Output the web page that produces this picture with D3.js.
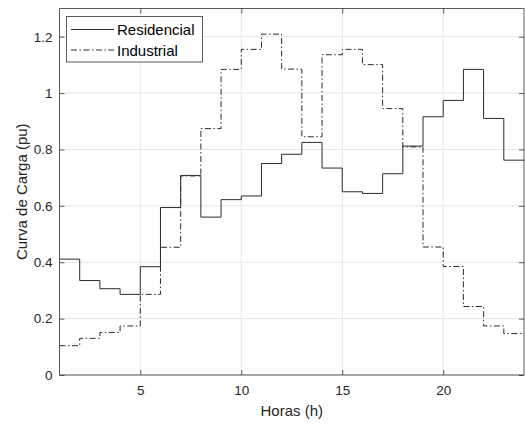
<!DOCTYPE html>
<html>
<head>
<meta charset="utf-8">
<script src="https://cdn.jsdelivr.net/npm/d3@7"></script>
<style>
  html, body { margin: 0; padding: 0; background: #fff; }
  svg { display: block; font-family: Arial, "Liberation Sans", Helvetica, sans-serif; }
</style>
</head>
<body>
<svg id="chart" width="525" height="424"></svg>
<script>
// Hourly load curves (pu), one value per hour starting at hour 1
const hours = d3.range(1, 24);
const residencial = [0.411, 0.335, 0.306, 0.286, 0.384, 0.594, 0.708, 0.560, 0.622, 0.635, 0.750, 0.783,
                     0.825, 0.734, 0.650, 0.644, 0.714, 0.812, 0.916, 0.974, 1.084, 0.910, 0.762];
const industrial = [0.104, 0.130, 0.151, 0.174, 0.286, 0.453, 0.706, 0.874, 1.084, 1.155, 1.209, 1.085,
                    0.845, 1.136, 1.155, 1.101, 0.945, 0.809, 0.454, 0.385, 0.243, 0.174, 0.147];
const seriesNames = ["Residencial", "Industrial"];
const xTicks = [5, 10, 15, 20];
const yTicks = [0, 0.2, 0.4, 0.6, 0.8, 1, 1.2];
const xDomain = [1, 24];
const yDomain = [0, 1.3];

const svg = d3.select("#chart");
const m = { left: 59.5, top: 8.5, right: 524, bottom: 375 };

const x = d3.scaleLinear().domain(xDomain).range([m.left, m.right]);
const y = d3.scaleLinear().domain(yDomain).range([m.bottom, m.top]);

const axisColor = "#262626";
const gridColor = "#e6e6e6";

// grid
const grid = svg.append("g");
grid.selectAll(".gx").data(xTicks).join("line")
  .attr("x1", d => x(d)).attr("x2", d => x(d))
  .attr("y1", m.top).attr("y2", m.bottom)
  .attr("stroke", gridColor).attr("stroke-width", 1);
grid.selectAll(".gy").data(yTicks).join("line")
  .attr("x1", m.left).attr("x2", m.right)
  .attr("y1", d => y(d)).attr("y2", d => y(d))
  .attr("stroke", gridColor).attr("stroke-width", 1);

// stair lines
const line = d3.line().x(d => x(d[0])).y(d => y(d[1])).curve(d3.curveStepAfter);
function stairs(vals) {
  const pts = vals.map((v, i) => [hours[i], v]);
  pts.push([xDomain[1], vals[vals.length - 1]]);
  return pts;
}
const plot = svg.append("g");
plot.append("path").datum(stairs(residencial)).attr("d", line)
  .attr("fill", "none").attr("stroke", "#2b2b2b").attr("stroke-width", 1);
plot.append("path").datum(stairs(industrial)).attr("d", line)
  .attr("fill", "none").attr("stroke", "#2b2b2b").attr("stroke-width", 1)
  .attr("stroke-dasharray", "6,2.5,1.5,2.5");

// axes (ticks pointing inward, MATLAB style)
const fontSize = 13.5;
const xAxis = d3.axisBottom(x).tickValues(xTicks).tickSize(-5).tickPadding(10).tickFormat(d3.format("d"));
const yAxis = d3.axisLeft(y).tickValues(yTicks).tickSize(-5).tickPadding(7).tickFormat(d => d3.format("")(+d.toFixed(1)));
const xAxisTop = d3.axisTop(x).tickValues(xTicks).tickSize(-5).tickFormat("");
const yAxisRight = d3.axisRight(y).tickValues(yTicks).tickSize(-5).tickFormat("");

function style(g) {
  g.select(".domain").attr("stroke", axisColor).attr("stroke-opacity", 0.75);
  g.selectAll(".tick line").attr("stroke", axisColor).attr("stroke-opacity", 0.75);
  g.selectAll(".tick text").attr("fill", "#262626").attr("font-size", fontSize)
    .attr("font-family", "Arial, 'Liberation Sans', sans-serif");
}
svg.append("g").attr("transform", `translate(0,${m.bottom})`).call(xAxis).call(style)
  .call(g => g.select(".domain").attr("d", `M${m.left},0H${m.right}`));
svg.append("g").attr("transform", `translate(${m.left},0)`).call(yAxis).call(style)
  .call(g => g.select(".domain").attr("d", `M0,${m.bottom}V${m.top}`));
svg.append("g").attr("transform", `translate(0,${m.top})`).call(xAxisTop).call(style)
  .call(g => g.select(".domain").attr("d", `M${m.left},0H${m.right}`));
svg.append("g").attr("transform", `translate(${m.right},0)`).call(yAxisRight).call(style)
  .call(g => g.select(".domain").attr("d", `M0,${m.bottom}V${m.top}`));

// axis titles
svg.append("text").attr("x", (m.left + m.right) / 2).attr("y", 416)
  .attr("text-anchor", "middle").attr("font-size", 15).attr("fill", "#262626")
  .text("Horas (h)");
svg.append("text")
  .attr("transform", `translate(27,${(m.top + m.bottom) / 2}) rotate(-90)`)
  .attr("text-anchor", "middle").attr("font-size", 15).attr("fill", "#262626")
  .text("Curva de Carga (pu)");

// legend
const lg = svg.append("g");
lg.append("rect").attr("x", 66.5).attr("y", 16.5).attr("width", 136).attr("height", 45.5)
  .attr("fill", "#fff").attr("stroke", axisColor).attr("stroke-opacity", 0.75);
const legendRows = [
  { name: seriesNames[0], dash: null, cy: 29.5 },
  { name: seriesNames[1], dash: "6,2.5,1.5,2.5", cy: 50 }
];
legendRows.forEach(r => {
  lg.append("line").attr("x1", 71).attr("x2", 114).attr("y1", r.cy).attr("y2", r.cy)
    .attr("stroke", "#2b2b2b").attr("stroke-width", 1)
    .attr("stroke-dasharray", r.dash);
  lg.append("text").attr("x", 117).attr("y", r.cy + 5.5)
    .attr("font-size", 15).attr("fill", "#000").text(r.name);
});
</script>
</body>
</html>
